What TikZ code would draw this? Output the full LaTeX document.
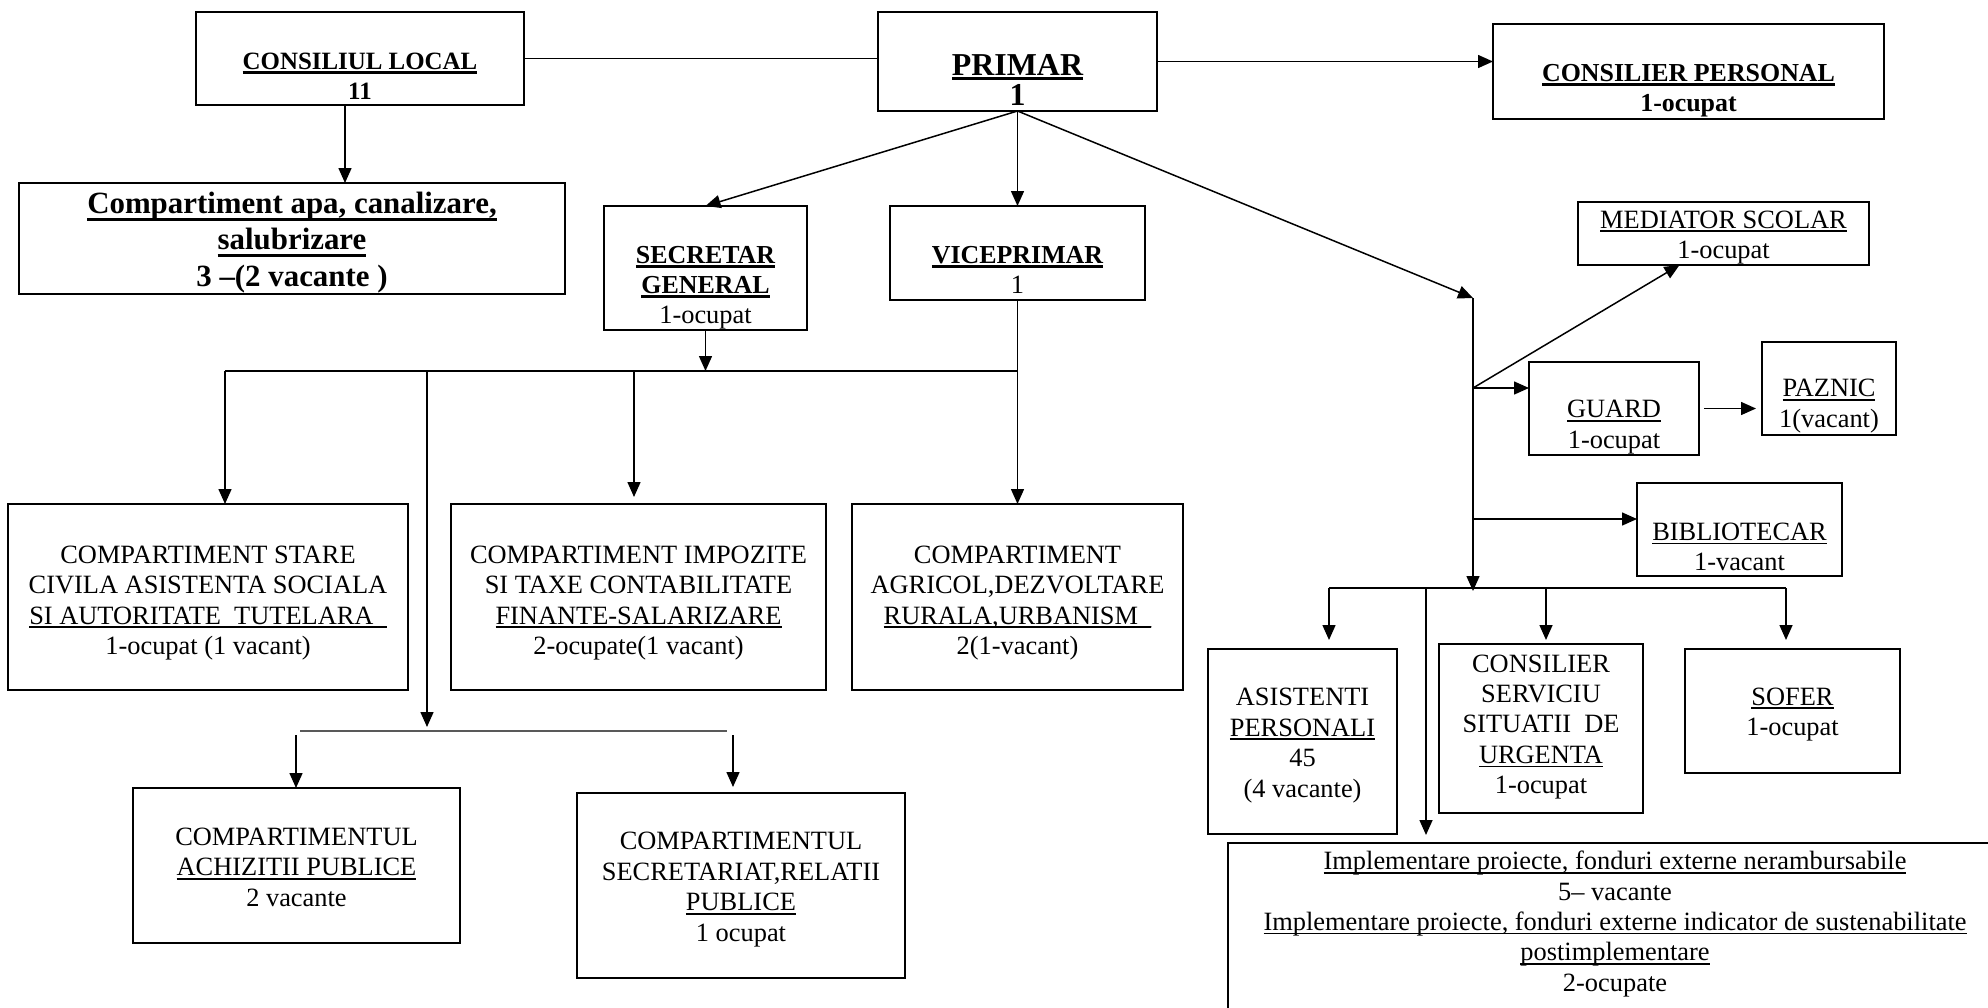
\documentclass[tikz,border=0pt]{standalone}
\usepackage{fontspec}
\setmainfont{Liberation Serif}
\usetikzlibrary{arrows.meta}
\newcommand\ulr[1]{\setbox0\hbox{#1}\hbox{\rlap{\copy0}\rule[-4bp]{\wd0}{1.8bp}}}
\newcommand\ulb[1]{\setbox0\hbox{#1}\hbox{\rlap{\copy0}\rule[-4.5bp]{\wd0}{3bp}}}
\newcommand\ulbb[1]{\setbox0\hbox{#1}\hbox{\rlap{\copy0}\rule[-7.5bp]{\wd0}{3bp}}}
\newcommand\rgfont{\fontsize{26.5}{30.5}\selectfont}
\newcommand\bdfont{\fontsize{26}{30}\selectfont\bfseries}
\tikzset{
  bx/.style={draw, line width=2bp, inner sep=0pt, outer sep=0pt},
  tx/.style={align=center, inner sep=0pt, font=\rgfont},
  tb/.style={align=center, inner sep=0pt, font=\bdfont},
  arr/.style={line width=1.5bp, -{Triangle[length=15bp,width=13bp]}},
  ln/.style={line width=1.5bp},
  thinln/.style={line width=1.1bp, black!65}
}
\begin{document}
\begin{tikzpicture}[x=1bp,y=-1bp]
\useasboundingbox (0,0) rectangle (1988,1007);
\clip (0,0) rectangle (1988,1007);

% ---------- top row ----------
\node[bx, minimum width=328bp, minimum height=93bp] (cl) at (360,58.5) {};
\node[tb, font=\fontsize{25}{30}\selectfont\bfseries] (clt) at (360,76) {\ulb{CONSILIUL LOCAL}\\11};

\node[bx, minimum width=279bp, minimum height=99bp] (primar) at (1017.5,61.5) {};
\node[tb, font=\fontsize{32}{30}\selectfont\bfseries] (primart) at (1017.5,80) {\ulb{PRIMAR}\\1};

\node[bx, minimum width=391bp, minimum height=95bp] (cp) at (1688.5,71.5) {};
\node[tb] (cpt) at (1688.5,91) {\ulb{CONSILIER PERSONAL}\\1-ocupat};

\node[bx, minimum width=546bp, minimum height=111bp] (apa) at (292,238.5) {};
\node[align=center, inner sep=0pt, font=\fontsize{31}{37}\selectfont\bfseries] (apat) at (292,242.5)
  {\ulbb{Compartiment apa, canalizare,}\\\ulbb{salubrizare}\\3 –(2 vacante )};

% ---------- second row ----------
\node[bx, minimum width=203bp, minimum height=124bp] (secr) at (705.5,268) {};
\node[tb] (secrt) at (705.5,288) {\ulb{SECRETAR}\\\ulb{GENERAL}\\{\rgfont\mdseries 1-ocupat}};

\node[bx, minimum width=255bp, minimum height=94bp] (vice) at (1017.5,253) {};
\node[tb] (vicet) at (1017.5,270) {\ulb{VICEPRIMAR}\\{\rgfont\mdseries 1}};

\node[bx, minimum width=291bp, minimum height=63bp] (med) at (1723.5,233.5) {};
\node[tx] (medt) at (1723.5,237.5) {\ulr{MEDIATOR SCOLAR}\\1-ocupat};

\node[bx, minimum width=170bp, minimum height=93bp] (guard) at (1614,408.5) {};
\node[tx] (guardt) at (1614,427) {\ulr{GUARD}\\1-ocupat};

\node[bx, minimum width=134bp, minimum height=93bp] (paz) at (1829,388.5) {};
\node[tx] (pazt) at (1829,406) {\ulr{PAZNIC}\\1(vacant)};

\node[bx, minimum width=205bp, minimum height=93bp] (bib) at (1739.5,529.5) {};
\node[tx] (bibt) at (1739.5,547) {\ulr{BIBLIOTECAR}\\1-vacant};

% ---------- compartments ----------
\node[bx, minimum width=400bp, minimum height=186bp] (stare) at (208,597) {};
\node[tx] (staret) at (208,603)
  {COMPARTIMENT STARE\\CIVILA ASISTENTA SOCIALA\\\ulr{SI AUTORITATE~ TUTELARA\_}\\1-ocupat (1 vacant)};
\node[bx, minimum width=375bp, minimum height=186bp] (imp) at (638.5,597) {};
\node[tx] (impt) at (638.5,603)
  {COMPARTIMENT IMPOZITE\\SI TAXE CONTABILITATE\\\ulr{FINANTE-SALARIZARE}\\2-ocupate(1 vacant)};
\node[bx, minimum width=331bp, minimum height=186bp] (agr) at (1017.5,597) {};
\node[tx] (agrt) at (1017.5,603)
  {COMPARTIMENT\\AGRICOL,DEZVOLTARE\\\ulr{RURALA,URBANISM\_}\\2(1-vacant)};

\node[bx, minimum width=327bp, minimum height=155bp] (ach) at (296.5,865.5) {};
\node[tx] (acht) at (296.5,867)
  {COMPARTIMENTUL\\\ulr{ACHIZITII PUBLICE}\\2 vacante};
\node[bx, minimum width=328bp, minimum height=185bp] (sec2) at (741,885.5) {};
\node[tx] (sec2t) at (741,889.5)
  {COMPARTIMENTUL\\SECRETARIAT,RELATII\\\ulr{PUBLICE}\\1 ocupat};

\node[bx, minimum width=189bp, minimum height=185bp] (asis) at (1302.5,741.5) {};
\node[tx] (asist) at (1302.5,745.5)
  {ASISTENTI\\\ulr{PERSONALI}\\45\\(4 vacante)};
\node[bx, minimum width=204bp, minimum height=169bp] (cssu) at (1541,728.5) {};
\node[tx] (cssut) at (1541,727)
  {CONSILIER\\SERVICIU\\SITUATII~ DE\\\ulr{URGENTA}\\1-ocupat};
\node[bx, minimum width=215bp, minimum height=124bp] (sofer) at (1792.5,711) {};
\node[tx] (sofert) at (1792.5,714.5) {\ulr{SOFER}\\1-ocupat};

\node[bx, anchor=north west, minimum width=790bp, minimum height=200bp] (impl) at (1228,843) {};
\node[tx] (implt) at (1615,924)
  {\ulr{Implementare proiecte, fonduri externe nerambursabile}\\5– vacante\\
   \ulr{Implementare proiecte, fonduri externe indicator de sustenabilitate}\\
   \ulr{postimplementare}\\2-ocupate};

% ---------- connectors: top ----------
\draw[arr] ([xshift=-15bp]cl.south) -- ([xshift=-15bp]cl.south |- apa.north);
\draw[ln] (cl.east) -- (cl.east -| primar.west);
\draw[arr] (primar.east) -- (primar.east -| cp.west);
\draw[arr] (primar.south) -- (secr.north);
\draw[arr] (primar.south) -- (vice.north);

% ---------- right branch ----------
\coordinate (rj) at (1473,298);
\coordinate (rb) at (1473,591);
\coordinate (gj) at (1473,388);
\coordinate (bj) at (1473,519);
\draw[arr] (primar.south) -- (rj);
\draw[arr] (rj) -- (rb);
\draw[arr] (gj) -- (gj -| guard.west);
\draw[arr] (gj) -- ([xshift=-44bp]med.south);
\draw[arr] ([xshift=5bp]guard.east) -- ([xshift=-6bp]guard.east -| paz.west);
\draw[arr] (bj) -- (bj -| bib.west);

\coordinate (rbl) at (1329,588);
\coordinate (rbr) at (1786,588);
\coordinate (iv) at (1426,588);
\coordinate (cs) at (1546,588);
\draw[ln] (rbl) -- (rbr);
\draw[arr] (rbl) -- ([yshift=9bp]rbl |- asis.north);
\draw[arr] (cs) -- ([yshift=4bp]cs |- cssu.north);
\draw[arr] (rbr) -- ([yshift=9bp]rbr |- sofer.north);
\draw[arr] (iv) -- ([yshift=8bp]iv |- impl.north);

% ---------- left branch ----------
\coordinate (lb1) at (225,371);
\coordinate (li) at (634,371);
\coordinate (lv) at (427,371);
\coordinate (lv2) at (427,727);
\draw[ln] (lb1) -- (vice.south |- lb1);
\draw[arr] (secr.south) -- (secr.south |- lb1);
\draw[arr] (vice.south) -- (agr.north);
\draw[arr] (lb1) -- (lb1 |- stare.north);
\draw[arr] (li) -- ([yshift=7bp]li |- imp.north);
\draw[arr] (lv) -- (lv2);

\coordinate (b2l) at (300,731);
\coordinate (b2r) at (727,731);
\coordinate (a1) at (296,735);
\coordinate (a2) at (733,735);
\draw[thinln] (b2l) -- (b2r);
\draw[arr] (a1) -- (a1 |- ach.north);
\draw[arr] (a2) -- ([yshift=6bp]a2 |- sec2.north);
\end{tikzpicture}
\end{document}
